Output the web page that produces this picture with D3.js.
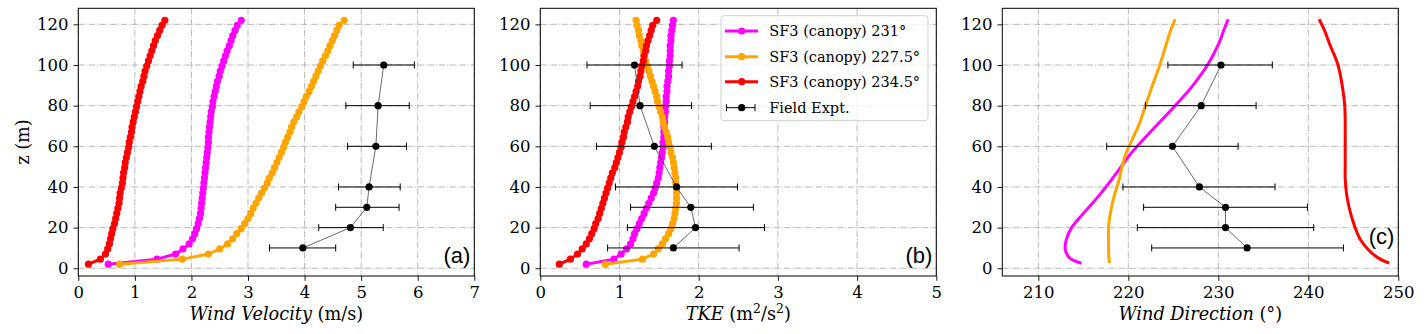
<!DOCTYPE html>
<html>
<head>
<meta charset="utf-8">
<script src="https://cdn.jsdelivr.net/npm/d3@7"></script>
<style>
body { margin: 0; background: #fff; }
svg { display: block; }
text { font-family: "DejaVu Serif", serif; fill: #000; }
</style>
</head>
<body>
<svg id="fig" width="1425" height="334"></svg>
<script>
// heights of the simulated profiles (m)
const zLevels = [2, 4.5, 7, 9.5, 12, 14.5, 17, 19.5, 22, 24.5, 27, 29.5, 32, 34.5, 37, 39.5, 42, 44.5, 47, 49.5,
  52, 54.5, 57, 59.5, 62, 64.5, 67, 69.5, 72, 74.5, 77, 79.5, 82, 84.5, 87, 89.5, 92, 94.5, 97, 99.5,
  102, 104.5, 107, 109.5, 112, 114.5, 117, 119.5, 122]

// panel (a) wind velocity
const velMagenta = [0.53, 1.39, 1.72, 1.85, 1.96, 2.02, 2.06, 2.09, 2.12, 2.14, 2.16, 2.17, 2.18, 2.19, 2.20, 2.21, 2.22, 2.23, 2.24, 2.25,
  2.26, 2.27, 2.28, 2.29, 2.30, 2.30, 2.31, 2.32, 2.33, 2.34, 2.35, 2.37, 2.38, 2.40, 2.42, 2.44, 2.46, 2.49, 2.51, 2.54,
  2.57, 2.60, 2.63, 2.67, 2.70, 2.73, 2.77, 2.81, 2.88]
const velOrange = [0.73, 1.84, 2.30, 2.50, 2.64, 2.73, 2.80, 2.88, 2.94, 3.00, 3.05, 3.09, 3.14, 3.19, 3.24, 3.29, 3.34, 3.38, 3.43, 3.47,
  3.51, 3.55, 3.59, 3.63, 3.66, 3.70, 3.74, 3.77, 3.81, 3.86, 3.90, 3.95, 3.99, 4.03, 4.08, 4.12, 4.16, 4.20, 4.24, 4.28,
  4.32, 4.37, 4.41, 4.45, 4.49, 4.53, 4.57, 4.61, 4.70]
const velRed = [0.18, 0.39, 0.48, 0.52, 0.55, 0.57, 0.59, 0.61, 0.64, 0.66, 0.68, 0.70, 0.72, 0.73, 0.74, 0.76, 0.78, 0.79, 0.80, 0.82,
  0.83, 0.85, 0.87, 0.89, 0.90, 0.92, 0.94, 0.95, 0.97, 0.99, 1.01, 1.03, 1.05, 1.07, 1.09, 1.11, 1.14, 1.16, 1.18, 1.21,
  1.24, 1.27, 1.30, 1.33, 1.36, 1.40, 1.44, 1.48, 1.53]

// panel (b) TKE
const tkeMagenta = [0.58, 0.93, 1.02, 1.09, 1.14, 1.17, 1.19, 1.22, 1.25, 1.28, 1.31, 1.34, 1.37, 1.40, 1.43, 1.45, 1.47, 1.49, 1.50, 1.51,
  1.52, 1.53, 1.54, 1.55, 1.55, 1.56, 1.56, 1.56, 1.57, 1.57, 1.58, 1.58, 1.59, 1.59, 1.60, 1.60, 1.61, 1.62, 1.62, 1.63,
  1.63, 1.64, 1.64, 1.64, 1.65, 1.65, 1.66, 1.67, 1.68]
const tkeOrange = [0.82, 1.29, 1.43, 1.49, 1.54, 1.58, 1.62, 1.65, 1.67, 1.69, 1.70, 1.71, 1.72, 1.72, 1.72, 1.72, 1.71, 1.71, 1.70, 1.69,
  1.68, 1.67, 1.65, 1.64, 1.62, 1.61, 1.59, 1.57, 1.55, 1.54, 1.52, 1.50, 1.48, 1.47, 1.45, 1.43, 1.41, 1.39, 1.37, 1.35,
  1.33, 1.31, 1.30, 1.28, 1.27, 1.25, 1.24, 1.22, 1.21]
const tkeRed = [0.24, 0.38, 0.47, 0.53, 0.58, 0.62, 0.65, 0.68, 0.70, 0.73, 0.75, 0.77, 0.79, 0.81, 0.83, 0.85, 0.87, 0.89, 0.91, 0.94,
  0.96, 0.98, 1.00, 1.02, 1.03, 1.05, 1.06, 1.08, 1.10, 1.11, 1.13, 1.15, 1.17, 1.19, 1.21, 1.23, 1.24, 1.26, 1.27, 1.28,
  1.30, 1.31, 1.33, 1.34, 1.36, 1.38, 1.40, 1.42, 1.47]

// panel (c) wind direction (line only)
const zDir = [2.5, 5, 9, 14, 20, 27, 35, 44, 50, 56, 63, 72, 80, 89, 100, 110, 117, 122.5]
const dirMagenta = [214.8, 213.5, 213.0, 213.1, 213.7, 215.0, 216.6, 218.2, 219.2, 220.2, 221.6, 223.5, 225.2, 227.0, 228.8, 230.0, 230.6, 231.1]
const dirOrange = [217.9, 217.85, 217.8, 217.8, 217.8, 218.0, 218.4, 219.0, 219.3, 219.7, 220.4, 221.3, 221.9, 222.6, 223.5, 224.2, 224.7, 225.2]
const dirRed = [249.0, 247.8, 246.7, 245.8, 245.2, 244.7, 244.3, 244.1, 244.1, 244.1, 244.1, 244.1, 244.05, 243.8, 243.3, 242.4, 241.8, 241.2]

// field experiment
const fieldZ = [10, 20, 30, 40, 60, 80, 100]
const fieldVel = [3.97, 4.81, 5.10, 5.14, 5.26, 5.30, 5.40]
const fieldVelLo = [3.38, 4.25, 4.55, 4.60, 4.76, 4.73, 4.86]
const fieldVelHi = [4.55, 5.39, 5.67, 5.69, 5.80, 5.85, 5.94]
const fieldTke = [1.68, 1.96, 1.90, 1.72, 1.44, 1.26, 1.19]
const fieldTkeLo = [0.85, 1.10, 1.14, 0.95, 0.71, 0.63, 0.59]
const fieldTkeHi = [2.51, 2.83, 2.69, 2.49, 2.16, 1.91, 1.79]
const fieldDir = [233.2, 230.8, 230.8, 227.9, 224.9, 228.1, 230.3]
const fieldDirLo = [222.6, 221.0, 221.7, 219.4, 217.6, 221.9, 224.4]
const fieldDirHi = [243.9, 240.6, 239.9, 236.3, 232.2, 234.2, 236.0]

const seriesNames = ["SF3 (canopy) 231°", "SF3 (canopy) 227.5°", "SF3 (canopy) 234.5°", "Field Expt."]
const seriesColors = ["#ff00ff", "#ffa500", "#ff0000"]
const yTicks = [0, 20, 40, 60, 80, 100, 120]

const panels = [
  {left: 78.3, xDomain: [0, 7], xTicks: [0, 1, 2, 3, 4, 5, 6, 7], z: zLevels, sims: [velMagenta, velOrange, velRed], markers: true,
   field: fieldVel, lo: fieldVelLo, hi: fieldVelHi, tag: "(a)", tagY: 262.5, label: ["Wind Velocity", " (m/s)"]},
  {left: 540.3, xDomain: [0, 5], xTicks: [0, 1, 2, 3, 4, 5], z: zLevels, sims: [tkeMagenta, tkeOrange, tkeRed], markers: true,
   field: fieldTke, lo: fieldTkeLo, hi: fieldTkeHi, tag: "(b)", tagY: 262.5, label: ["TKE", " (m", "2", "/s", "2", ")"]},
  {left: 1002.3, xDomain: [206, 250], xTicks: [210, 220, 230, 240, 250], z: zDir, sims: [dirMagenta, dirOrange, dirRed], markers: false,
   field: fieldDir, lo: fieldDirLo, hi: fieldDirHi, tag: "(c)", tagY: 243.5, label: ["Wind Direction", " (°)"]}
]

const W = 396, plotTop = 8.3, plotBottom = 276
const svg = d3.select("#fig")
const y = d3.scaleLinear().domain([-3.8, 127.9]).range([plotBottom, plotTop])

panels.forEach(function(p, pi) {
  const x = d3.scaleLinear().domain(p.xDomain).range([p.left, p.left + W])
  const g = svg.append("g")

  // grid
  g.selectAll(".gx").data(p.xTicks).join("line")
    .attr("x1", d => x(d)).attr("x2", d => x(d)).attr("y1", plotTop).attr("y2", plotBottom)
    .attr("stroke", "#b0b0b0").attr("stroke-width", 0.9).attr("stroke-dasharray", "6.4,1.6,1,1.6")
  g.selectAll(".gy").data(yTicks).join("line")
    .attr("x1", p.left).attr("x2", p.left + W).attr("y1", d => y(d)).attr("y2", d => y(d))
    .attr("stroke", "#b0b0b0").attr("stroke-width", 0.9).attr("stroke-dasharray", "6.4,1.6,1,1.6")

  // simulated profiles
  p.sims.forEach(function(vals, si) {
    const pts = vals.map((v, i) => ({x: v, z: p.z[i]}))
    const line = d3.line().x(d => x(d.x)).y(d => y(d.z))
    if (!p.markers) line.curve(d3.curveCatmullRom)
    g.append("path").attr("d", line(pts)).attr("fill", "none")
      .attr("stroke", seriesColors[si]).attr("stroke-width", 3)
    if (p.markers) {
      g.append("g").selectAll("circle").data(pts).join("circle")
        .attr("cx", d => x(d.x)).attr("cy", d => y(d.z)).attr("r", 3.6)
        .attr("fill", seriesColors[si])
    }
  })

  // field experiment
  const fpts = p.field.map((v, i) => ({x: v, z: fieldZ[i], lo: p.lo[i], hi: p.hi[i]}))
  g.append("path").attr("d", d3.line().x(d => x(d.x)).y(d => y(d.z))(fpts))
    .attr("fill", "none").attr("stroke", "#444").attr("stroke-width", 0.8)
  const eb = g.append("g").attr("stroke", "#000").attr("stroke-width", 1)
  eb.selectAll(".eb").data(fpts).join("line")
    .attr("x1", d => x(d.lo)).attr("x2", d => x(d.hi)).attr("y1", d => y(d.z)).attr("y2", d => y(d.z))
  eb.selectAll(".capl").data(fpts).join("line")
    .attr("x1", d => x(d.lo)).attr("x2", d => x(d.lo)).attr("y1", d => y(d.z) - 3.5).attr("y2", d => y(d.z) + 3.5)
  eb.selectAll(".caph").data(fpts).join("line")
    .attr("x1", d => x(d.hi)).attr("x2", d => x(d.hi)).attr("y1", d => y(d.z) - 3.5).attr("y2", d => y(d.z) + 3.5)
  g.append("g").selectAll("circle").data(fpts).join("circle")
    .attr("cx", d => x(d.x)).attr("cy", d => y(d.z)).attr("r", 3.6).attr("fill", "#000")

  // frame
  g.append("rect").attr("x", p.left).attr("y", plotTop).attr("width", W).attr("height", plotBottom - plotTop)
    .attr("fill", "none").attr("stroke", "#000").attr("stroke-width", 1)

  // axes
  const xa = g.append("g").attr("transform", "translate(0," + plotBottom + ")")
    .call(d3.axisBottom(x).tickValues(p.xTicks).tickSize(4.8).tickPadding(5).tickFormat(d3.format("d")))
  const ya = g.append("g").attr("transform", "translate(" + p.left + ",0)")
    .call(d3.axisLeft(y).tickValues(yTicks).tickSize(4.8).tickPadding(5).tickFormat(d3.format("d")))
  ;[xa, ya].forEach(function(a) {
    a.select(".domain").remove()
    a.selectAll("text").attr("font-family", "DejaVu Serif").attr("font-size", 16.5).attr("fill", "#000")
    a.selectAll("line").attr("stroke", "#000").attr("stroke-width", 0.9)
  })

  // x label
  const lab = g.append("text").attr("x", p.left + W / 2).attr("y", 320).attr("text-anchor", "middle").attr("font-size", 17.7)
  lab.append("tspan").attr("font-style", "italic").text(p.label[0])
  if (p.label.length === 2) {
    lab.append("tspan").text(p.label[1])
  } else {
    lab.append("tspan").text(p.label[1])
    lab.append("tspan").attr("font-size", 12.4).attr("dy", -7.5).text(p.label[2])
    lab.append("tspan").attr("dy", 7.5).text(p.label[3])
    lab.append("tspan").attr("font-size", 12.4).attr("dy", -7.5).text(p.label[4])
    lab.append("tspan").attr("dy", 7.5).text(p.label[5])
  }

  // panel tag
  g.append("text").attr("x", p.left + W - 4).attr("y", p.tagY).attr("text-anchor", "end")
    .style("font-family", "'Liberation Sans', Arial, sans-serif").attr("font-size", 22).text(p.tag)
})

// y label
svg.append("text").attr("transform", "translate(29,142) rotate(-90)").attr("text-anchor", "middle")
  .attr("font-size", 17.7).text("z (m)")

// legend in panel (b)
const leg = svg.append("g").attr("transform", "translate(721,15.7)")
leg.append("rect").attr("width", 207).attr("height", 105).attr("rx", 3)
  .attr("fill", "#fff").attr("fill-opacity", 0.8).attr("stroke", "#d0d0d0")
const rowY = [15.3, 41, 66, 92]
seriesNames.forEach(function(name, i) {
  const r = leg.append("g").attr("transform", "translate(0," + rowY[i] + ")")
  if (i < 3) {
    r.append("line").attr("x1", 4).attr("x2", 37).attr("stroke", seriesColors[i]).attr("stroke-width", 3)
    r.append("circle").attr("cx", 20.7).attr("r", 3.6).attr("fill", seriesColors[i])
  } else {
    r.append("line").attr("x1", 5.5).attr("x2", 34).attr("stroke", "#000").attr("stroke-width", 1)
    r.append("line").attr("x1", 5.5).attr("x2", 5.5).attr("y1", -3.5).attr("y2", 3.5).attr("stroke", "#000")
    r.append("line").attr("x1", 34).attr("x2", 34).attr("y1", -3.5).attr("y2", 3.5).attr("stroke", "#000")
    r.append("circle").attr("cx", 20.7).attr("r", 3.6).attr("fill", "#000")
  }
  r.append("text").attr("x", 48.3).attr("y", 5.3).attr("font-size", 14.5).text(name)
})
</script>
</body>
</html>
